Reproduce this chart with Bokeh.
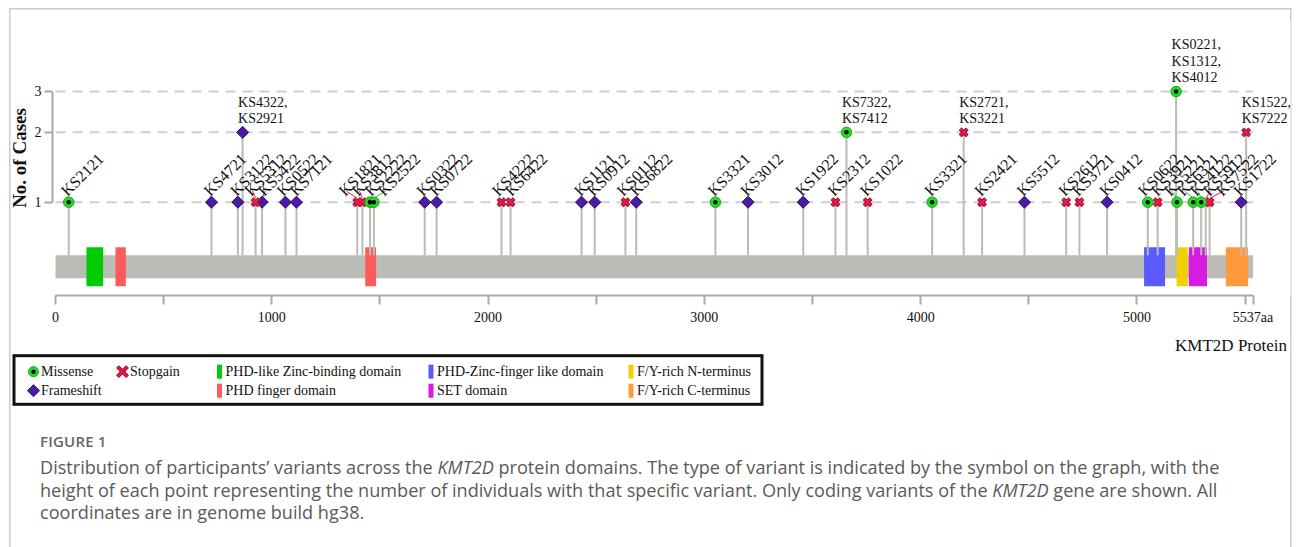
import math

from bokeh.core.properties import value
from bokeh.embed import file_html
from bokeh.layouts import column
from bokeh.models import ColumnDataSource, Div, FixedTicker, PrintfTickFormatter, Range1d
from bokeh.plotting import figure
from bokeh.resources import INLINE

# ---------------------------------------------------------------- data
PROTEIN_LENGTH = 5537
PROTEIN_NAME = "KMT2D Protein"

variant_pos = [61, 721, 843, 865, 925, 955, 1063, 1114, 1395, 1419, 1454, 1472,
               1707, 1762, 2062, 2104, 2432, 2493, 2635, 2685, 3051, 3202, 3457,
               3606, 3657, 3755, 4053, 4199, 4284, 4480, 4673, 4734, 4862, 5050,
               5096, 5181, 5185, 5260, 5297, 5318, 5336, 5482, 5505]
variant_type = ["Missense", "Frameshift", "Frameshift", "Frameshift", "Stopgain",
                "Frameshift", "Frameshift", "Frameshift", "Stopgain", "Stopgain",
                "Missense", "Missense", "Frameshift", "Frameshift", "Stopgain",
                "Stopgain", "Frameshift", "Frameshift", "Stopgain", "Frameshift",
                "Missense", "Frameshift", "Frameshift", "Stopgain", "Missense",
                "Stopgain", "Missense", "Stopgain", "Stopgain", "Frameshift",
                "Stopgain", "Stopgain", "Frameshift", "Missense", "Stopgain",
                "Missense", "Missense", "Missense", "Missense", "Stopgain",
                "Stopgain", "Frameshift", "Stopgain"]
variant_cases = [1, 1, 1, 2, 1, 1, 1, 1, 1, 1, 1, 1, 1, 1, 1, 1, 1, 1, 1, 1, 1, 1,
                 1, 1, 2, 1, 1, 2, 1, 1, 1, 1, 1, 1, 1, 3, 1, 1, 1, 1, 1, 1, 2]
variant_samples = ["KS2121", "KS4721", "KS3122", "KS4322, KS2921", "KS5312",
                   "KS5422", "KS0522", "KS7121", "KS1821", "KS3812", "KS2222",
                   "KS2522", "KS0322", "KS0722", "KS4222", "KS6422", "KS1121",
                   "KS0912", "KS0112", "KS6822", "KS3321", "KS3012", "KS1922",
                   "KS2312", "KS7322, KS7412", "KS1022", "KS3321",
                   "KS2721, KS3221", "KS2421", "KS5512", "KS2612", "KS3721",
                   "KS0412", "KS0622", "KS3921", "KS0221, KS1312, KS4012",
                   "KS5221", "KS6321", "KS4122", "KS5912", "KS7522", "KS1722",
                   "KS1522, KS7222"]

domain_name = ["PHD-like Zinc-binding domain", "PHD finger domain", "PHD finger domain",
               "PHD-Zinc-finger like domain", "F/Y-rich N-terminus", "SET domain",
               "F/Y-rich C-terminus"]
domain_start = [143, 277, 1432, 5033, 5183, 5240, 5411]
domain_end = [220, 325, 1482, 5130, 5235, 5324, 5514]

count_ticks = [1, 2, 3]
position_ticks = [0, 500, 1000, 1500, 2000, 2500, 3000, 3500, 4000, 4500, 5000, 5500, 5537]

legend_variants = ["Missense", "Stopgain", "Frameshift"]
legend_domains = ["PHD-like Zinc-binding domain", "PHD finger domain",
                  "PHD-Zinc-finger like domain", "SET domain",
                  "F/Y-rich N-terminus", "F/Y-rich C-terminus"]

caption_title = "FIGURE 1"
caption_lines = [
    "Distribution of participants’ variants across the <i>KMT2D</i> protein domains. "
    "The type of variant is indicated by the symbol on the graph, with the",
    "height of each point representing the number of individuals with that specific "
    "variant. Only coding variants of the <i>KMT2D</i> gene are shown. All",
    "coordinates are in genome build hg38.",
]

# ---------------------------------------------------------------- styling
SERIF = "Liberation Serif"
DOMAIN_COLORS = {
    "PHD-like Zinc-binding domain": "#00cc00",
    "PHD finger domain": "#ff5a5a",
    "PHD-Zinc-finger like domain": "#5a5aff",
    "F/Y-rich N-terminus": "#f2d000",
    "SET domain": "#d81be0",
    "F/Y-rich C-terminus": "#ff9a3c",
}
LEADER_COLORS = {"Missense": "#22cc22", "Stopgain": "#e8163c", "Frameshift": "#4b1ba8"}
MISSENSE_FILL, MISSENSE_EDGE = "#22dd22", "#13a813"
FRAME_FILL, FRAME_EDGE = "#4b1ba8", "#2a0c5e"
STOP_FILL, STOP_EDGE = "#ee1a44", "#7a1036"
TRACK_GRAY = "#bbbcb6"
BORDER_GRAY = "#cccccc"

W, PAGE_H = 1296, 547
MAIN_H = 330
FRAME_L, FRAME_R, FRAME_T, FRAME_B = 52, 1290, 20, 295
X_START, X_END = -14, 5710
Y_START, Y_END = 0.396, 6.07

px_per_aa = (FRAME_R - FRAME_L) / (X_END - X_START)
px_per_decade = (FRAME_B - FRAME_T) / (math.log10(Y_END) - math.log10(Y_START))


def lift(v, px):
    """Value on the log count axis that sits `px` pixels above `v`."""
    return v * 10 ** (px / px_per_decade)


# protein track, expressed as pixel distances below the count-1 baseline
BAR_TOP, BAR_BOTTOM = lift(1, -53), lift(1, -76)
DOM_TOP, DOM_BOTTOM = lift(1, -45), lift(1, -84)


def spread_labels(xs, gap):
    """Push crowded label anchors apart, keeping each crowd centred on its markers."""
    order = sorted(range(len(xs)), key=lambda i: xs[i])

    def layout(g):
        m = sum(xs[i] for i in g) / len(g)
        return [m + (k - (len(g) - 1) / 2) * gap for k in range(len(g))]

    groups = []
    for i in order:
        groups.append([i])
        while len(groups) > 1 and layout(groups[-1])[0] - layout(groups[-2])[-1] < gap:
            last = groups.pop()
            groups[-1].extend(last)
    out = [0.0] * len(xs)
    for g in groups:
        for i, p in zip(g, layout(g)):
            out[i] = p
    return out


# ---------------------------------------------------------------- main plot
p = figure(width=W, height=MAIN_H, title=None,
           x_range=Range1d(X_START, X_END), y_range=Range1d(Y_START, Y_END),
           y_axis_type="log", output_backend="svg", toolbar_location=None,
           min_border_left=FRAME_L, min_border_right=W - FRAME_R,
           min_border_top=FRAME_T, min_border_bottom=MAIN_H - FRAME_B)
p.outline_line_color = None
p.xgrid.grid_line_color = None
p.ygrid.grid_line_color = None
p.background_fill_color = "white"
p.border_fill_color = None

# dashed guides at each count level
p.segment(x0=[0] * len(count_ticks), x1=[PROTEIN_LENGTH] * len(count_ticks),
          y0=count_ticks, y1=count_ticks, line_color="#cfcfcf", line_width=2,
          line_dash="10 7")

# protein backbone and domains
p.quad(left=[0], right=[PROTEIN_LENGTH], bottom=[BAR_BOTTOM], top=[BAR_TOP],
       fill_color=TRACK_GRAY, line_color=None)
p.quad(left=domain_start, right=domain_end,
       bottom=[DOM_BOTTOM] * len(domain_start), top=[DOM_TOP] * len(domain_start),
       fill_color=[DOMAIN_COLORS[n] for n in domain_name], line_color=None)

# stems
p.segment(x0=variant_pos, x1=variant_pos, y0=[BAR_TOP] * len(variant_pos),
          y1=variant_cases, line_color=TRACK_GRAY, line_width=2)

# label anchors for single-case variants (rotated labels)
single = [i for i, c in enumerate(variant_cases) if c == 1]
spread = spread_labels([variant_pos[i] for i in single], 13 / px_per_aa)

lead_x0, lead_x1, lead_y0, lead_y1, lead_c = [], [], [], [], []
for i, lx in zip(single, spread):
    if abs(lx - variant_pos[i]) * px_per_aa > 3:
        lead_x0.append(variant_pos[i])
        lead_x1.append(lx)
        lead_y0.append(lift(1, 4))
        lead_y1.append(lift(1, 11))
        lead_c.append(LEADER_COLORS[variant_type[i]])
p.segment(x0=lead_x0, x1=lead_x1, y0=lead_y0, y1=lead_y1, line_color=lead_c, line_width=1)

rot_src = ColumnDataSource(dict(x=spread, y=[variant_cases[i] for i in single],
                                text=[variant_samples[i] for i in single]))
p.text(x="x", y="y", text="text", source=rot_src, angle=math.pi / 4,
       text_font=value(SERIF), text_font_size="16px", text_color="#111111",
       text_align="left", text_baseline="alphabetic", x_offset=-5, y_offset=-9)

multi = [i for i, c in enumerate(variant_cases) if c > 1]
multi_src = ColumnDataSource(dict(
    x=[variant_pos[i] for i in multi], y=[variant_cases[i] for i in multi],
    text=[",\n".join(variant_samples[i].split(", ")) for i in multi]))
p.text(x="x", y="y", text="text", source=multi_src, text_font=value(SERIF),
       text_font_size="14px", text_color="#111111", text_align="left",
       text_baseline="bottom", text_line_height=1.1, x_offset=-4.5, y_offset=-6)


def draw_markers(xs, ys, kind):
    if kind == "Missense":
        p.scatter(xs, ys, marker="circle", size=10.5, fill_color=MISSENSE_FILL,
                  line_color=MISSENSE_EDGE, line_width=1)
        p.scatter(xs, ys, marker="circle", size=4.5, fill_color="black", line_color=None)
    elif kind == "Frameshift":
        p.scatter(xs, ys, marker="square", angle=math.pi / 4, size=8.5,
                  fill_color=FRAME_FILL, line_color=FRAME_EDGE, line_width=1)
    else:
        p.scatter(xs, ys, marker="x", size=10, line_color=STOP_EDGE, line_width=4)
        p.scatter(xs, ys, marker="x", size=10, line_color=STOP_FILL, line_width=2.2)


for kind in ["Frameshift", "Stopgain", "Missense"]:
    idx = [i for i, t in enumerate(variant_type) if t == kind]
    draw_markers([variant_pos[i] for i in idx], [variant_cases[i] for i in idx], kind)

# axes
p.yaxis.ticker = FixedTicker(ticks=count_ticks, minor_ticks=[])
p.yaxis.formatter = PrintfTickFormatter(format="%d")
p.yaxis.bounds = (1, 3)
p.yaxis.axis_label = "No. of Cases"
p.yaxis.axis_label_text_font = SERIF
p.yaxis.axis_label_text_font_style = "bold"
p.yaxis.axis_label_text_font_size = "19px"
p.yaxis.axis_label_text_color = "#111111"
p.yaxis.axis_label_standoff = 2
p.yaxis.major_label_text_font = SERIF
p.yaxis.major_label_text_font_size = "14px"
p.yaxis.major_label_text_color = "#111111"
p.yaxis.major_label_standoff = 3

p.xaxis.ticker = FixedTicker(ticks=position_ticks, minor_ticks=[])
p.xaxis.bounds = (0, PROTEIN_LENGTH)
overrides = {t: (str(t) if t % 1000 == 0 else "") for t in position_ticks}
overrides[PROTEIN_LENGTH] = f"{PROTEIN_LENGTH}aa"
p.xaxis.major_label_overrides = overrides
p.xaxis.major_label_text_font = SERIF
p.xaxis.major_label_text_font_size = "14px"
p.xaxis.major_label_text_color = "#111111"
p.xaxis.major_label_standoff = 5

for ax in (p.xaxis, p.yaxis):
    ax.axis_line_color = "#a9a9a9"
    ax.axis_line_width = 2
    ax.major_tick_line_color = "#a9a9a9"
    ax.major_tick_line_width = 2
    ax.major_tick_in = 0
    ax.minor_tick_line_color = None
p.yaxis.major_tick_out = 8
p.xaxis.major_tick_out = 9

# ---------------------------------------------------------------- legend + caption block
INFO_H = PAGE_H - MAIN_H
ROWS = [41.7, 60.7]


def svg_marker(kind, x, y):
    if kind == "Missense":
        return (f'<circle cx="{x}" cy="{y}" r="5" fill="{MISSENSE_FILL}" stroke="{MISSENSE_EDGE}" stroke-width="1"/>'
                f'<circle cx="{x}" cy="{y}" r="2.25" fill="black"/>')
    if kind == "Frameshift":
        h = 6
        return (f'<polygon points="{x},{y - h} {x + h},{y} {x},{y + h} {x - h},{y}" '
                f'fill="{FRAME_FILL}" stroke="{FRAME_EDGE}" stroke-width="1"/>')
    d = f"M{x - 5} {y - 5}L{x + 5} {y + 5}M{x - 5} {y + 5}L{x + 5} {y - 5}"
    return (f'<path d="{d}" stroke="{STOP_EDGE}" stroke-width="4" fill="none"/>'
            f'<path d="{d}" stroke="{STOP_FILL}" stroke-width="2.2" fill="none"/>')


def svg_text(x, y, s, size=14, anchor="start"):
    return (f'<text x="{x}" y="{y}" text-anchor="{anchor}" dominant-baseline="central" '
            f'style="font-family:\'{SERIF}\',serif;font-size:{size}px;fill:#111111;">{s}</text>')


svg = [svg_text(1287, 15, PROTEIN_NAME, size=17, anchor="end"),
       '<rect x="14" y="25.7" width="748" height="48.6" fill="none" stroke="#111111" stroke-width="3"/>']
variant_slots = [(33.5, ROWS[0]), (122.5, ROWS[0]), (33.5, ROWS[1])]
for kind, (mx, my) in zip(legend_variants, variant_slots):
    svg.append(svg_marker(kind, mx, my))
    svg.append(svg_text(mx + 7.5, my, kind))
domain_cols = [219.5, 219.5, 431, 431, 631, 631]
for k, name in enumerate(legend_domains):
    cx, cy = domain_cols[k], ROWS[k % 2]
    svg.append(f'<rect x="{cx - 2.5}" y="{cy - 7}" width="5" height="14" fill="{DOMAIN_COLORS[name]}"/>')
    svg.append(svg_text(cx + 6, cy, name))

info_html = f"""
<div style="position:relative;width:{W}px;height:{INFO_H}px;overflow:hidden;">
  <svg width="{W}" height="80" style="position:absolute;left:0;top:0;">{''.join(svg)}</svg>
  <div style="position:absolute;left:40px;top:101px;font-family:'Open Sans',sans-serif;font-size:15px;font-weight:600;color:#666666;letter-spacing:0.2px;">{caption_title}</div>
  <div style="position:absolute;left:40px;top:126px;font-family:'Open Sans',sans-serif;font-size:18.1px;line-height:22.5px;color:#5a5a5a;white-space:nowrap;">{'<br>'.join(caption_lines)}</div>
</div>
"""
info = Div(text=info_html, width=W, height=INFO_H, margin=0)

# light card border drawn behind the transparent plot canvas and the info block
card_styles = {
    "background-color": "white",
    "background-image": (f"linear-gradient({BORDER_GRAY},{BORDER_GRAY}),"
                         f"linear-gradient({BORDER_GRAY},{BORDER_GRAY}),"
                         f"linear-gradient({BORDER_GRAY},{BORDER_GRAY})"),
    "background-size": "1.5px 100%, 1.5px 100%, 1283px 1.5px",
    "background-position": "8.5px 8px, 1290px 8px, 8.5px 7.5px",
    "background-repeat": "no-repeat",
}
page = column(p, info, spacing=0, styles=card_styles)
open("out.html", "w").write(file_html(page, INLINE))
